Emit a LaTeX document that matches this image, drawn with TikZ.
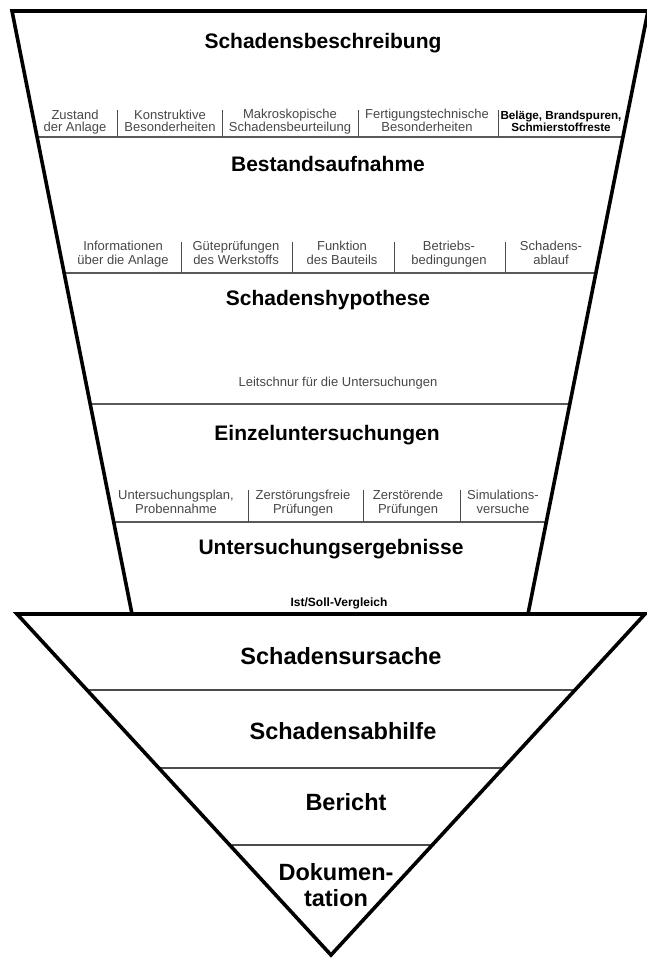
\documentclass[tikz,border=0pt]{standalone}
\usepackage{fontspec}
\setmainfont{Liberation Sans}
\usetikzlibrary{calc}
\tikzset{
  outer/.style={line width=3.6pt, line join=miter},
  hline/.style={line width=1.6pt, black!65},
  tline/.style={line width=1.6pt, black!70},
  sep/.style={line width=0.9pt, black!70},
  title/.style={font=\bfseries\fontsize{21}{24}\selectfont, inner sep=0pt, text height=15pt, text depth=4pt},
  ltitle/.style={font=\bfseries\fontsize{23.5}{26}\selectfont, inner sep=0pt, align=center},
  small/.style={font=\fontsize{13}{13.5}\selectfont, text=black!72, align=center, inner sep=0pt, text height=9.5pt, text depth=2.8pt},
  smallA/.style={small, font=\fontsize{13}{12}\selectfont},
  smallbold/.style={font=\bfseries\fontsize{11.7}{12}\selectfont, align=center, inner sep=0pt, text height=9pt, text depth=2.6pt},
}
\begin{document}
\begin{tikzpicture}[x=1pt,y=-1pt]
\useasboundingbox (0,0) rectangle (646,958);
% corners
\coordinate (TL) at (12,11);
\coordinate (TR) at (648,11);
\coordinate (BL) at (132,614);
\coordinate (BR) at (528,614);
\coordinate (A) at (17,614);
\coordinate (B) at (645,614);
\coordinate (C) at (331,955);
% inner horizontal lines of upper trapezoid
\coordinate (l1) at ($(TL)!0.2090!(BL)$); \coordinate (r1) at ($(TR)!0.2090!(BR)$);
\coordinate (l2) at ($(TL)!0.4345!(BL)$); \coordinate (r2) at ($(TR)!0.4345!(BR)$);
\coordinate (l3) at ($(TL)!0.6517!(BL)$); \coordinate (r3) at ($(TR)!0.6517!(BR)$);
\coordinate (l4) at ($(TL)!0.8474!(BL)$); \coordinate (r4) at ($(TR)!0.8474!(BR)$);
\draw[hline] (l1) -- (r1);
\draw[hline] (l2) -- (r2);
\draw[hline] (l3) -- (r3);
\draw[hline] (l4) -- (r4);
% triangle lines
\coordinate (m1) at ($(A)!0.2229!(C)$); \coordinate (n1) at ($(B)!0.2229!(C)$);
\coordinate (m2) at ($(A)!0.4516!(C)$); \coordinate (n2) at ($(B)!0.4516!(C)$);
\coordinate (m3) at ($(A)!0.6774!(C)$); \coordinate (n3) at ($(B)!0.6774!(C)$);
\draw[tline] (m1) -- (n1);
\draw[tline] (m2) -- (n2);
\draw[tline] (m3) -- (n3);
% separators row 1
\foreach \x/\n in {117/a,222/b,358/c,498/d}{
  \coordinate (s1\n t) at (\x,110); \coordinate (s1\n b) at (\x,137);
  \draw[sep] (s1\n t) -- (s1\n b);}
% separators row 2
\foreach \x/\n in {181/a,292/b,394/c,505/d}{
  \coordinate (s2\n t) at (\x,242); \coordinate (s2\n b) at (\x,273);
  \draw[sep] (s2\n t) -- (s2\n b);}
% separators row 3
\foreach \x/\n in {248/a,363/b,460/c}{
  \coordinate (s3\n t) at (\x,490); \coordinate (s3\n b) at (\x,522);
  \draw[sep] (s3\n t) -- (s3\n b);}
% outlines
\draw[outer] (TL) -- (TR) -- (BR) -- (BL) -- cycle;
\draw[outer] (A) -- (B) -- (C) -- cycle;
% titles
\node[title] (t1) at (323,43) {Schadensbeschreibung};
\node[title] (t2) at (328,166) {Bestandsaufnahme};
\node[title] (t3) at (328,300) {Schadenshypothese};
\node[title] (t4) at (327,435) {Einzeluntersuchungen};
\node[title] (t5) at (331,549) {Untersuchungsergebnisse};
\node[ltitle] (u1) at (341,656) {Schadensursache};
\node[ltitle] (u2) at (343,731) {Schadensabhilfe};
\node[ltitle] (u3) at (346,802) {Bericht};
\node[ltitle] (u4) at (336,885) {Dokumen-\\tation};
% row 1
\node[smallA] (a1) at (75,128.5) {Zustand\\der Anlage};
\node[smallA] (a2) at (170,128.5) {Konstruktive\\Besonderheiten};
\node[smallA] (a3) at (290,128.5) {Makroskopische\\Schadensbeurteilung};
\node[smallA] (a4) at (427,128.5) {Fertigungstechnische\\Besonderheiten};
\node[smallbold] (a5) at (561,128.5) {Beläge, Brandspuren,\\Schmierstoffreste};
% row 2
\node[small] (b1) at (123,261) {Informationen\\über die Anlage};
\node[small] (b2) at (236,261) {Güteprüfungen\\des Werkstoffs};
\node[small] (b3) at (342,261) {Funktion\\des Bauteils};
\node[small] (b4) at (449,261) {Betriebs-\\bedingungen};
\node[small] (b5) at (551,261) {Schadens-\\ablauf};
% hypothesis line
\node[small] (h1) at (338,383) {Leitschnur für die Untersuchungen};
% row 3
\node[small] (c1) at (176,510) {Untersuchungsplan,\\Probennahme};
\node[small] (c2) at (303,510) {Zerstörungsfreie\\Prüfungen};
\node[small] (c3) at (408,510) {Zerstörende\\Prüfungen};
\node[small] (c4) at (503,510) {Simulations-\\versuche};
% results
\node[smallbold, font=\bfseries\fontsize{12}{12}\selectfont] (v1) at (339,603) {Ist/Soll-Vergleich};
\end{tikzpicture}
\end{document}
